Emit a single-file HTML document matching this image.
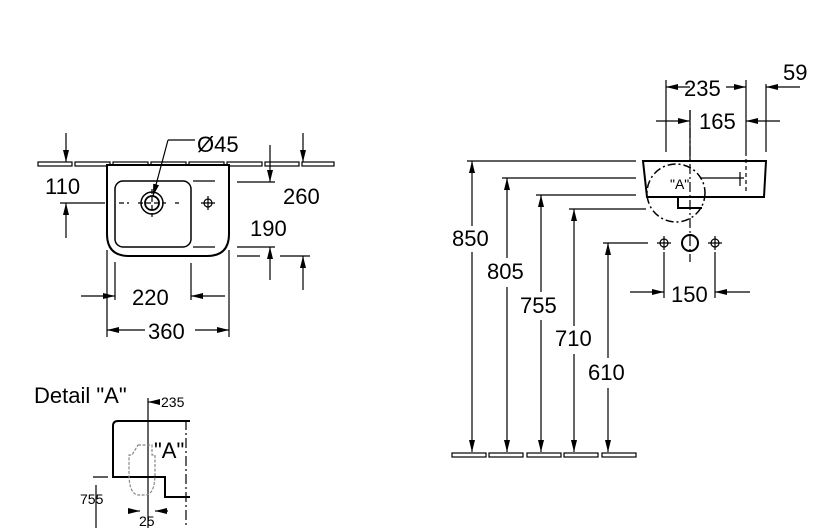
<!DOCTYPE html>
<html><head><meta charset="utf-8"><style>
html,body{margin:0;padding:0;background:#fff;}
svg{display:block;font-family:"Liberation Sans",sans-serif;}
</style></head><body>
<svg width="830" height="528" viewBox="0 0 830 528" xmlns="http://www.w3.org/2000/svg">
<defs>
<marker id="a" viewBox="0 0 12 6" refX="12" refY="3" markerWidth="12" markerHeight="6" markerUnits="userSpaceOnUse" orient="auto"><path d="M0,0L12,3L0,6z" fill="#000"/></marker>
</defs>
<g stroke="#000" stroke-width="1.2" fill="none">
<rect x="38" y="162" width="34" height="4"/><rect x="75" y="162" width="35" height="4"/><rect x="113" y="162" width="35" height="4"/><rect x="151" y="162" width="35" height="4"/><rect x="189" y="162" width="35" height="4"/><rect x="227" y="162" width="35" height="4"/><rect x="265" y="162" width="34" height="4"/><rect x="302" y="162" width="32" height="4"/>
<path d="M107,165H229V234Q229,256 207,256H129Q107,256 107,234Z" stroke-width="2" fill="#fff"/>
<rect x="115" y="181" width="76" height="66" rx="8" stroke-width="1.5"/>
<circle cx="152" cy="203" r="11" stroke-width="1.5"/><circle cx="152" cy="203" r="7" stroke-width="1.8"/>
<circle cx="208" cy="203" r="4"/><path d="M201,203h14M208,196v14"/>
<path d="M100,203h8M119,203h10M138,203h28M175,203h4M152,189v28" stroke-dasharray="5,3"/>
<path d="M193,181h22M193,247h22M237,182h38M237,247h38M237,256h23M280,256h30"/>
<path d="M168,140H195M168,140L153,196" marker-end="url(#a)"/>
<path d="M66,133V162" marker-end="url(#a)"/><path d="M66,238V203" marker-end="url(#a)"/><path d="M60,203H100"/>
<path d="M270,145V182" marker-end="url(#a)"/><path d="M303,133V162" marker-end="url(#a)"/>
<path d="M270,280V247" marker-end="url(#a)"/><path d="M303,290V256" marker-end="url(#a)"/>
<path d="M115,262V300M191,263V300M107,250V337M229,250V337"/>
<path d="M81,296H115" marker-end="url(#a)"/><path d="M225,296H191" marker-end="url(#a)"/>
<path d="M145,330H107" marker-end="url(#a)"/><path d="M195,330H229" marker-end="url(#a)"/>

<path d="M643,161H766L764,197H647Z" stroke-width="2" fill="#fff"/>
<path d="M678,197V208H702" stroke-width="2"/>
<circle cx="676" cy="193" r="29" stroke-width="1.5" stroke-dasharray="8,3,2,3"/>
<path d="M690,110V262" stroke-dasharray="10,3,2,3"/>
<path d="M746,152V192" stroke-dasharray="4,3"/>
<path d="M700,178H736M740,172v14M736,178h8"/>
<path d="M666,80V152M746,80V152M766,84V152M690,110V160"/>
<path d="M690,87H666" marker-end="url(#a)"/><path d="M726,87H746" marker-end="url(#a)"/>
<path d="M800,87H766" marker-end="url(#a)"/>
<path d="M656,121H690" marker-end="url(#a)"/><path d="M780,121H746" marker-end="url(#a)"/>
<path d="M467,161H636M502,178H636M536,195H636M569,209H646M603,243H648"/>
<path d="M472,226V161" marker-end="url(#a)"/><path d="M472,252V452" marker-end="url(#a)"/>
<path d="M507,258V178" marker-end="url(#a)"/><path d="M507,287V452" marker-end="url(#a)"/>
<path d="M541,292V195" marker-end="url(#a)"/><path d="M541,320V452" marker-end="url(#a)"/>
<path d="M574,326V209" marker-end="url(#a)"/><path d="M574,354V452" marker-end="url(#a)"/>
<path d="M608,358V243" marker-end="url(#a)"/><path d="M608,388V452" marker-end="url(#a)"/>
<rect x="452" y="453" width="34" height="4"/><rect x="489" y="453" width="34" height="4"/><rect x="527" y="453" width="34" height="4"/><rect x="564" y="453" width="34" height="4"/><rect x="602" y="453" width="34" height="4"/>
<circle cx="664" cy="243" r="4"/><path d="M657,243h14M664,236v14"/>
<circle cx="715" cy="243" r="4"/><path d="M708,243h14M715,236v14"/>
<circle cx="690" cy="243" r="8" stroke-width="2"/>
<path d="M664,252V298M715,252V298"/>
<path d="M630,292H664" marker-end="url(#a)"/><path d="M750,292H715" marker-end="url(#a)"/>

<path d="M190,421H118Q113,421 113,426V477H165V497H190" stroke-width="2"/>
<path d="M186,420V528" stroke-dasharray="10,3,2,3"/>
<path d="M148,398V528"/>
<path d="M160,402H148" marker-end="url(#a)"/>
<path d="M138,445h14v10h3v18q0,22-10,22h-6q-10,0-10-22v-18h3z" stroke="#888" stroke-dasharray="3,1.5"/>
<path d="M93,477H108M96,485V528"/>
<path d="M128,511H140" marker-end="url(#a)"/><path d="M168,511H155" marker-end="url(#a)"/>
</g>
<g font-size="22" fill="#000">
<text x="197" y="152">Ø45</text>
<text x="45" y="194">110</text>
<text x="283" y="204">260</text>
<text x="250" y="236">190</text>
<text x="132" y="305">220</text>
<text x="148" y="339">360</text>
<text x="684" y="96">235</text>
<text x="783" y="80">59</text>
<text x="699" y="129">165</text>
<text x="452" y="246">850</text>
<text x="487" y="279">805</text>
<text x="520" y="313">755</text>
<text x="555" y="346">710</text>
<text x="588" y="380">610</text>
<text x="671" y="302">150</text>
<text x="34" y="403">Detail "A"</text>
<text x="154" y="458">"A"</text>
</g>
<g font-size="14" fill="#000">
<text x="670" y="189">"A"</text>
<text x="161" y="407">235</text>
<text x="80" y="504">755</text>
<text x="139" y="526">25</text>
</g>
</svg>
</body></html>
